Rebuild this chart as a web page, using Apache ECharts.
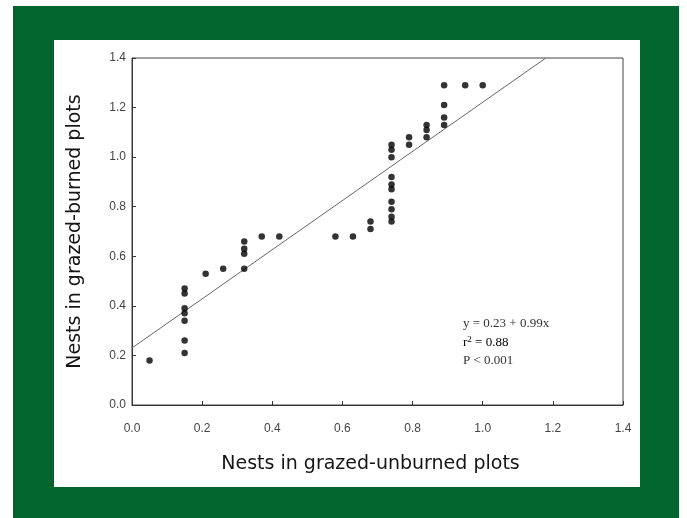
<!DOCTYPE html>
<html>
<head>
<meta charset="utf-8">
<script src="https://cdn.jsdelivr.net/npm/echarts@6/dist/echarts.min.js"></script>
<style>
  html, body { margin: 0; padding: 0; background: #ffffff; }
  #chart { width: 687px; height: 518px; }
</style>
</head>
<body>
<div id="chart"></div>
<script>
// Observed nests (x = grazed-unburned, y = grazed-burned)
const nestsUnburned = [
  0.05,
  0.15, 0.15, 0.15, 0.15, 0.15, 0.15, 0.15,
  0.21, 0.26,
  0.32, 0.32, 0.32, 0.32,
  0.37, 0.42, 0.58, 0.63,
  0.68, 0.68,
  0.74, 0.74, 0.74, 0.74, 0.74, 0.74, 0.74, 0.74, 0.74, 0.74,
  0.79, 0.79,
  0.84, 0.84, 0.84,
  0.89, 0.89, 0.89, 0.89,
  0.95, 1.00
];
const nestsBurned = [
  0.18,
  0.21, 0.26, 0.34, 0.37, 0.39, 0.45, 0.47,
  0.53, 0.55,
  0.55, 0.61, 0.63, 0.66,
  0.68, 0.68, 0.68, 0.68,
  0.71, 0.74,
  0.74, 0.76, 0.79, 0.82, 0.87, 0.89, 0.92, 1.00, 1.03, 1.05,
  1.05, 1.08,
  1.08, 1.11, 1.13,
  1.13, 1.16, 1.21, 1.29,
  1.29, 1.29
];

// Regression line y = 0.23 + 0.99x, drawn between its ends in the plot
const fitLine = [[0, 0.23], [1.18, 1.40]];

const statLines = ['y = 0.23 + 0.99x', 'r', '2', ' = 0.88', 'P < 0.001'];

const GREEN = '#03652e';
const TEXT = '#151515';
const TICK_TEXT = '#444444';

const chart = echarts.init(document.getElementById('chart'));

const points = nestsUnburned.map((x, i) => [x, nestsBurned[i]]);

const axisCommon = {
  type: 'value',
  min: 0,
  max: 1.4,
  interval: 0.2,
  nameLocation: 'middle',
  nameTextStyle: { color: TEXT, fontSize: 19, fontFamily: 'DejaVu Sans' },
  axisLine: { show: true, lineStyle: { color: '#333333', width: 1 } },
  axisTick: { show: true, inside: true, length: 4, lineStyle: { color: '#333333' } },
  splitLine: { show: false },
  axisLabel: {
    color: TICK_TEXT,
    fontSize: 12,
    fontFamily: 'Liberation Sans',
    formatter: v => v.toFixed(1)
  }
};

const option = {
  backgroundColor: '#ffffff',
  animation: false,
  graphic: [
    { type: 'rect', z: -20, shape: { x: 13, y: 6, width: 666, height: 512 }, style: { fill: GREEN } },
    { type: 'rect', z: -10, shape: { x: 54, y: 40, width: 586, height: 447 }, style: { fill: '#ffffff' } },
    {
      type: 'text', left: 463, top: 317, z: 10,
      style: { text: statLines[0], font: '13px "Liberation Serif"', fill: '#333333' }
    },
    {
      type: 'text', left: 463, top: 335, z: 10,
      style: {
        text: '{a|' + statLines[1] + '}{s|' + statLines[2] + '}{a|' + statLines[3] + '}',
        rich: {
          a: { fontSize: 13, fontFamily: 'Liberation Serif', color: '#333333' },
          s: { fontSize: 9, fontFamily: 'Liberation Serif', color: '#333333', verticalAlign: 'top', padding: [0, 0, 6, 0] }
        }
      }
    },
    {
      type: 'text', left: 463, top: 354, z: 10,
      style: { text: statLines[4], font: '13px "Liberation Serif"', fill: '#333333' }
    }
  ],
  grid: {
    left: 132, top: 58, width: 491, height: 347,
    show: true,
    borderColor: '#444444',
    borderWidth: 1,
    backgroundColor: 'transparent'
  },
  xAxis: Object.assign({}, axisCommon, {
    name: 'Nests in grazed-unburned plots',
    nameGap: 50,
    nameTextStyle: Object.assign({}, axisCommon.nameTextStyle, { padding: [0, 14, 0, 0] }),
    axisLabel: Object.assign({}, axisCommon.axisLabel, { margin: 18 })
  }),
  yAxis: Object.assign({}, axisCommon, {
    name: 'Nests in grazed-burned plots',
    nameGap: 47,
    axisLabel: Object.assign({}, axisCommon.axisLabel, { margin: 6 })
  }),
  series: [
    {
      type: 'line',
      data: fitLine,
      symbol: 'none',
      lineStyle: { color: '#666666', width: 1 },
      silent: true,
      z: 2
    },
    {
      type: 'scatter',
      data: points,
      symbolSize: 6.5,
      itemStyle: { color: '#000000' },
      z: 3
    }
  ]
};

chart.setOption(option);
</script>
</body>
</html>
